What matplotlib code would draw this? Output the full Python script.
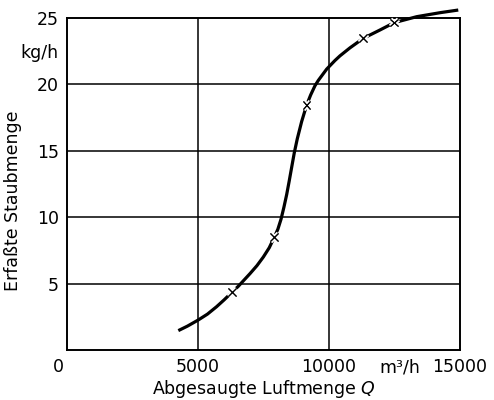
import matplotlib.pyplot as plt
import matplotlib.patheffects as pe
import matplotlib.transforms as mtransforms

# Abgesaugte Luftmenge Q (m3/h) vs. erfasste Staubmenge (kg/h)
curve_q = [4250, 4600, 5010, 5360, 5710, 6000, 6300, 6540, 6985, 7250,
           7494, 7720, 7913, 8050, 8170, 8280, 8385, 8480, 8580, 8676,
           8790, 8957, 9149, 9300, 9466, 9593, 9912, 10229, 10420, 10800,
           11310, 11950, 12490, 13350, 14240, 14935]
curve_m = [1.46, 1.8, 2.26, 2.7, 3.26, 3.78, 4.35, 4.8, 5.75, 6.35,
           7.0, 7.7, 8.49, 9.1, 9.85, 10.75, 11.7, 12.7, 13.8, 14.85,
           15.9, 17.2, 18.45, 19.2, 19.9, 20.3, 21.15, 21.8, 22.15, 22.75,
           23.47, 24.1, 24.65, 25.1, 25.4, 25.6]

meas_q = [6300, 7913, 9149, 11310, 12490]
meas_m = [4.35, 8.49, 18.45, 23.47, 24.65]

x_ticks = [0, 5000, 10000, 15000]
x_labels = ["0", "5000", "10000", "15000"]
y_ticks = [5, 10, 15, 20, 25]

plt.rcParams['font.family'] = ['DejaVu Sans']

fig = plt.figure(figsize=(4.94, 4.0), dpi=100)
ax = fig.add_axes([0.1356, 0.125, 0.7955, 0.83])

ax.set_xlim(0, 15000)
ax.set_ylim(0, 25)

for xv in [5000, 10000]:
    ax.axvline(xv, color="black", lw=1.1, zorder=1)
for yv in [5, 10, 15, 20]:
    ax.axhline(yv, color="black", lw=1.1, zorder=1)

ax.plot(curve_q, curve_m, color="black", lw=2.3, solid_capstyle="butt",
        solid_joinstyle="round", clip_on=False, zorder=3)
ax.plot(meas_q, meas_m, linestyle="none", marker="x", color="black",
        markersize=5.5, mew=0.8, clip_on=False, zorder=4,
        path_effects=[pe.withStroke(linewidth=3.5, foreground="white"), pe.Normal()])

for s in ax.spines.values():
    s.set_linewidth(1.4)
    s.set_color("black")

ax.tick_params(length=0, labelsize=12.5, pad=6)
ax.set_xticks(x_ticks)
ax.set_xticklabels(x_labels)
# the "0" sits a bit left of the corner
zero_lbl = ax.get_xticklabels()[0]
zero_lbl.set_transform(zero_lbl.get_transform()
                       + mtransforms.ScaledTranslation(-9 / 100, 0, fig.dpi_scale_trans))
ax.set_yticks(y_ticks)
ax.set_yticklabels([str(v) for v in y_ticks])

# unit labels placed like tick labels
ax.annotate("m³/h", xy=(12700, 0), xycoords=("data", "axes fraction"),
            xytext=(0, -6), textcoords="offset points",
            ha="center", va="top", fontsize=12.5)
ax.annotate("kg/h", xy=(0, 22.4), xycoords=("axes fraction", "data"),
            xytext=(-6, 0), textcoords="offset points",
            ha="right", va="center", fontsize=12.5)

ax.set_xlabel(r"Abgesaugte Luftmenge $\it{Q}$", fontsize=12.5, labelpad=1)
ax.set_ylabel("Erfaßte Staubmenge", fontsize=12.5)
ax.yaxis.set_label_coords(-0.115, 0.45)

fig.savefig("out.png", dpi=100)
